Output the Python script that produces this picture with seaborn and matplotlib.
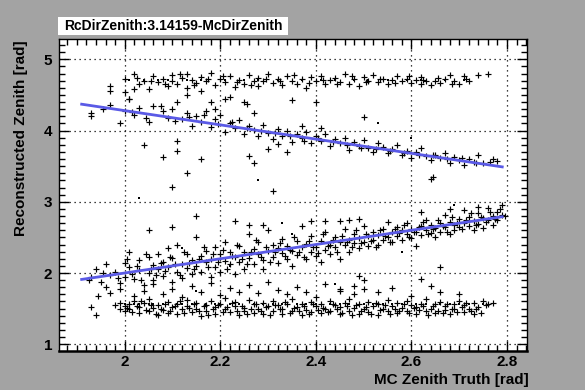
import matplotlib
matplotlib.use("Agg")
import matplotlib.pyplot as plt
from matplotlib.ticker import MultipleLocator
from matplotlib.patches import Rectangle
import seaborn as sns
import pandas as pd

# ---------------- data ----------------
title = "RcDirZenith:3.14159-McDirZenith"
x_title = "MC Zenith Truth [rad]"
y_title = "Reconstructed Zenith [rad]"
x_ticks = [2.0, 2.2, 2.4, 2.6, 2.8]
x_tick_labels = ["2", "2.2", "2.4", "2.6", "2.8"]
y_ticks = [1, 2, 3, 4, 5]
y_tick_labels = ["1", "2", "3", "4", "5"]

# reference lines (straight lines drawn on the plot)
line_x = [1.91, 2.79]
line_mirror_y = [4.37, 3.49]
line_true_y = [1.91, 2.79]

# band following the y = x line
band_true = [
    (1.93, 1.95), (1.94, 2.05), (1.95, 1.88), (1.96, 2.12), (1.97, 1.97), (1.98, 2.02), (1.99, 1.86),
    (2.00, 2.14), (2.00, 1.95), (2.01, 2.08), (2.01, 2.30), (2.02, 1.92), (2.03, 2.18), (2.03, 2.04),
    (2.04, 1.83), (2.05, 2.22), (2.05, 2.00), (2.06, 2.11), (2.06, 1.90), (2.07, 2.27), (2.07, 2.05),
    (2.08, 2.16), (2.08, 1.96), (2.09, 2.35), (2.09, 2.09), (2.10, 1.88), (2.10, 2.21), (2.11, 2.02),
    (2.11, 2.40), (2.12, 2.13), (2.12, 1.93), (2.13, 2.26), (2.13, 2.07), (2.14, 2.18), (2.14, 1.98),
    (2.15, 2.50), (2.15, 2.10), (2.16, 2.24), (2.16, 2.01), (2.17, 2.31), (2.17, 2.15), (2.18, 1.95),
    (2.18, 2.20), (2.19, 2.36), (2.19, 2.09), (2.20, 2.26), (2.20, 2.02), (2.21, 2.17), (2.21, 2.44),
    (2.22, 2.30), (2.22, 2.12), (2.23, 1.98), (2.23, 2.22), (2.24, 2.38), (2.24, 2.16), (2.25, 2.05),
    (2.25, 2.29), (2.26, 2.55), (2.26, 2.21), (2.27, 2.34), (2.27, 2.12), (2.28, 2.26), (2.28, 2.43),
    (2.29, 2.18), (2.29, 2.06), (2.30, 2.31), (2.30, 2.60), (2.31, 2.22), (2.31, 2.40), (2.32, 2.14),
    (2.32, 2.35), (2.33, 2.28), (2.33, 2.48), (2.34, 2.20), (2.34, 2.38), (2.35, 2.10), (2.35, 2.31),
    (2.36, 2.45), (2.36, 2.25), (2.37, 2.66), (2.37, 2.36), (2.38, 2.19), (2.38, 2.41), (2.39, 2.30),
    (2.39, 2.52), (2.40, 2.24), (2.40, 2.37), (2.41, 2.45), (2.41, 2.16), (2.42, 2.33), (2.42, 2.58),
    (2.43, 2.40), (2.43, 2.27), (2.44, 2.50), (2.44, 2.36), (2.45, 2.44), (2.45, 2.20), (2.46, 2.39),
    (2.46, 2.62), (2.47, 2.47), (2.47, 2.30), (2.48, 2.55), (2.48, 2.42), (2.49, 2.35), (2.49, 2.49),
    (2.50, 2.44), (2.50, 2.66), (2.51, 2.52), (2.51, 2.38), (2.52, 2.47), (2.52, 2.58), (2.53, 2.40),
    (2.53, 2.53), (2.54, 2.62), (2.54, 2.46), (2.55, 2.50), (2.55, 2.72), (2.56, 2.43), (2.56, 2.57),
    (2.57, 2.65), (2.57, 2.52), (2.58, 2.47), (2.58, 2.60), (2.59, 2.55), (2.59, 2.70), (2.60, 2.62),
    (2.60, 2.49), (2.61, 2.58), (2.61, 2.38), (2.62, 2.66), (2.62, 2.53), (2.63, 2.61), (2.63, 2.75),
    (2.64, 2.56), (2.64, 2.68), (2.65, 2.63), (2.65, 2.50), (2.66, 2.70), (2.66, 2.58), (2.67, 2.82),
    (2.67, 2.64), (2.68, 2.55), (2.68, 2.72), (2.69, 2.67), (2.69, 2.60), (2.70, 2.76), (2.70, 2.64),
    (2.71, 2.70), (2.71, 2.88), (2.72, 2.66), (2.72, 2.79), (2.73, 2.60), (2.73, 2.73), (2.74, 2.84),
    (2.74, 2.69), (2.75, 2.77), (2.75, 2.63), (2.76, 2.91), (2.76, 2.74), (2.77, 2.80), (2.77, 2.68),
    (2.78, 2.86), (2.78, 2.75), (2.79, 2.82), (2.79, 2.95),
    (2.23, 2.73), (2.26, 2.67), (2.29, 2.67), (2.39, 2.73), (2.42, 2.73), (2.45, 2.73), (2.47, 2.74),
    (2.49, 2.76), (2.05, 2.60), (2.10, 2.64), (2.15, 2.80), (2.62, 2.85), (2.68, 2.90), (2.74, 2.93),
    (1.925, 1.90), (1.955, 2.00), (1.985, 1.93), (2.005, 2.20), (2.015, 1.98), (2.025, 2.10),
    (2.035, 1.90), (2.045, 2.26), (2.055, 2.05), (2.065, 1.97), (2.075, 2.14), (2.085, 2.03),
    (2.095, 2.22), (2.105, 2.12), (2.115, 1.97), (2.125, 2.30), (2.135, 2.14), (2.145, 2.05),
    (2.155, 2.20), (2.165, 2.37), (2.175, 2.09), (2.185, 2.26), (2.195, 2.15), (2.205, 2.33),
    (2.215, 2.06), (2.225, 2.24), (2.235, 2.40), (2.245, 2.20), (2.255, 2.12), (2.265, 2.30),
    (2.275, 2.47), (2.285, 2.22), (2.295, 2.36), (2.305, 2.16), (2.315, 2.30), (2.325, 2.42),
    (2.335, 2.24), (2.345, 2.33), (2.355, 2.50), (2.365, 2.30), (2.375, 2.22), (2.385, 2.45),
    (2.395, 2.36), (2.405, 2.28), (2.415, 2.55), (2.425, 2.38), (2.435, 2.47), (2.445, 2.30),
    (2.455, 2.52), (2.465, 2.44), (2.475, 2.36), (2.485, 2.60), (2.495, 2.42), (2.505, 2.55),
    (2.515, 2.45), (2.525, 2.36), (2.535, 2.60), (2.545, 2.52), (2.555, 2.44), (2.565, 2.62),
    (2.575, 2.56), (2.585, 2.68), (2.595, 2.50), (2.605, 2.57), (2.615, 2.64), (2.625, 2.72),
    (2.635, 2.55), (2.645, 2.62), (2.655, 2.74), (2.665, 2.66), (2.675, 2.58), (2.685, 2.78),
    (2.695, 2.70), (2.705, 2.62), (2.715, 2.75), (2.725, 2.84), (2.735, 2.68), (2.745, 2.78),
    (2.755, 2.71), (2.765, 2.86), (2.775, 2.76), (2.785, 2.90), (2.795, 2.80),
]

# points between the y = x band and the pi/2 band
band_gap = [
    (1.96, 1.80), (1.97, 1.72), (1.99, 1.77), (2.02, 1.68), (2.04, 1.75), (2.06, 1.84), (2.08, 1.70),
    (2.10, 1.78), (2.12, 1.66), (2.14, 1.82), (2.16, 1.73), (2.18, 1.86), (2.20, 1.69), (2.22, 1.79),
    (2.24, 1.74), (2.26, 1.83), (2.28, 1.72), (2.30, 1.88), (2.32, 1.76), (2.34, 1.70), (2.36, 1.80),
    (2.38, 1.74), (2.40, 1.67), (2.42, 1.85), (2.45, 1.78), (2.48, 1.71), (2.50, 1.90), (2.53, 1.73),
    (2.56, 1.79), (2.60, 1.68), (2.64, 1.82), (2.66, 1.74), (2.70, 1.70), (1.93, 1.52), (1.94, 1.41),
    (1.945, 1.68), (2.49, 1.96), (2.48, 1.82), (2.50, 1.78), (2.45, 1.75), (2.62, 1.92), (2.66, 2.08),
]

# band around pi/2
band_low = [
    (1.98, 1.55), (1.99, 1.50), (1.99, 1.58), (2.00, 1.47), (2.00, 1.53), (2.01, 1.56), (2.01, 1.49),
    (2.02, 1.61), (2.03, 1.44), (2.03, 1.52), (2.04, 1.58), (2.05, 1.46), (2.05, 1.63), (2.06, 1.51),
    (2.07, 1.41), (2.07, 1.55), (2.08, 1.48), (2.09, 1.59), (2.09, 1.44), (2.10, 1.52), (2.11, 1.57),
    (2.11, 1.42), (2.12, 1.49), (2.13, 1.62), (2.13, 1.54), (2.14, 1.45), (2.15, 1.58), (2.15, 1.50),
    (2.16, 1.40), (2.17, 1.55), (2.17, 1.47), (2.18, 1.60), (2.19, 1.52), (2.19, 1.43), (2.20, 1.57),
    (2.21, 1.49), (2.21, 1.65), (2.22, 1.45), (2.23, 1.54), (2.23, 1.59), (2.24, 1.41), (2.25, 1.51),
    (2.25, 1.47), (2.26, 1.62), (2.27, 1.56), (2.27, 1.44), (2.28, 1.50), (2.29, 1.58), (2.29, 1.42),
    (2.30, 1.53), (2.31, 1.47), (2.31, 1.60), (2.32, 1.55), (2.33, 1.43), (2.33, 1.50), (2.34, 1.57),
    (2.35, 1.46), (2.35, 1.63), (2.36, 1.52), (2.37, 1.41), (2.37, 1.56), (2.38, 1.48), (2.39, 1.59),
    (2.39, 1.45), (2.40, 1.53), (2.41, 1.57), (2.41, 1.44), (2.42, 1.50), (2.43, 1.61), (2.43, 1.47),
    (2.44, 1.55), (2.45, 1.42), (2.45, 1.52), (2.46, 1.58), (2.47, 1.46), (2.47, 1.64), (2.48, 1.51),
    (2.49, 1.43), (2.49, 1.56), (2.50, 1.49), (2.51, 1.59), (2.51, 1.45), (2.52, 1.53), (2.53, 1.57),
    (2.53, 1.41), (2.54, 1.50), (2.55, 1.62), (2.55, 1.46), (2.56, 1.54), (2.57, 1.44), (2.57, 1.58),
    (2.58, 1.51), (2.59, 1.47), (2.59, 1.60), (2.60, 1.55), (2.61, 1.42), (2.61, 1.52), (2.62, 1.57),
    (2.63, 1.46), (2.63, 1.63), (2.64, 1.50), (2.65, 1.44), (2.65, 1.56), (2.66, 1.59), (2.67, 1.48),
    (2.67, 1.53), (2.68, 1.42), (2.69, 1.57), (2.69, 1.50), (2.70, 1.61), (2.71, 1.45), (2.71, 1.55),
    (2.72, 1.49), (2.73, 1.58), (2.73, 1.43), (2.74, 1.52), (2.75, 1.60), (2.76, 1.56), (2.77, 1.58),
    (2.005, 1.51), (2.015, 1.45), (2.025, 1.54), (2.035, 1.60), (2.045, 1.48), (2.055, 1.55),
    (2.065, 1.43), (2.075, 1.50), (2.085, 1.57), (2.095, 1.47), (2.105, 1.53), (2.115, 1.60),
    (2.125, 1.44), (2.135, 1.51), (2.145, 1.56), (2.155, 1.46), (2.165, 1.53), (2.175, 1.41),
    (2.185, 1.49), (2.195, 1.55), (2.205, 1.45), (2.215, 1.52), (2.225, 1.58), (2.235, 1.47),
    (2.245, 1.54), (2.255, 1.43), (2.265, 1.50), (2.275, 1.56), (2.285, 1.46), (2.295, 1.52),
    (2.305, 1.41), (2.315, 1.55), (2.325, 1.49), (2.335, 1.59), (2.345, 1.44), (2.355, 1.51),
    (2.365, 1.47), (2.375, 1.53), (2.385, 1.42), (2.395, 1.56), (2.405, 1.48), (2.415, 1.51),
    (2.425, 1.45), (2.435, 1.57), (2.445, 1.49), (2.455, 1.44), (2.465, 1.53), (2.475, 1.41),
    (2.485, 1.55), (2.495, 1.47), (2.505, 1.52), (2.515, 1.43), (2.525, 1.58), (2.535, 1.48),
    (2.545, 1.55), (2.555, 1.42), (2.565, 1.50), (2.575, 1.46), (2.585, 1.56), (2.595, 1.44),
    (2.605, 1.51), (2.615, 1.48), (2.625, 1.54), (2.635, 1.41), (2.645, 1.53), (2.655, 1.47),
    (2.665, 1.44), (2.675, 1.56), (2.685, 1.49), (2.695, 1.45), (2.705, 1.52), (2.715, 1.58),
    (2.725, 1.46), (2.735, 1.50), (2.745, 1.44), (2.755, 1.55),
]

# band around 3*pi/2
band_high = [
    (1.97, 4.62), (2.00, 4.72), (2.01, 4.45), (2.02, 4.80), (2.03, 4.65), (2.04, 4.70), (2.05, 4.58),
    (2.06, 4.76), (2.07, 4.68), (2.08, 4.73), (2.09, 4.62), (2.10, 4.78), (2.10, 4.70), (2.11, 4.66),
    (2.12, 4.74), (2.13, 4.60), (2.13, 4.79), (2.14, 4.71), (2.15, 4.67), (2.16, 4.75), (2.16, 4.55),
    (2.17, 4.69), (2.18, 4.81), (2.19, 4.64), (2.20, 4.72), (2.21, 4.68), (2.22, 4.76), (2.23, 4.61),
    (2.24, 4.71), (2.25, 4.66), (2.26, 4.78), (2.27, 4.70), (2.28, 4.63), (2.28, 4.74), (2.29, 4.69),
    (2.30, 4.80), (2.31, 4.67), (2.32, 4.72), (2.33, 4.64), (2.34, 4.76), (2.35, 4.70), (2.36, 4.66),
    (2.37, 4.73), (2.38, 4.60), (2.39, 4.75), (2.40, 4.69), (2.41, 4.77), (2.42, 4.65), (2.43, 4.71),
    (2.44, 4.74), (2.45, 4.68), (2.46, 4.79), (2.47, 4.66), (2.48, 4.72), (2.49, 4.62), (2.50, 4.75),
    (2.51, 4.70), (2.52, 4.78), (2.53, 4.68), (2.54, 4.73), (2.55, 4.65), (2.56, 4.71), (2.57, 4.76),
    (2.58, 4.69), (2.59, 4.73), (2.60, 4.67), (2.61, 4.71), (2.62, 4.66), (2.62, 4.75), (2.63, 4.69),
    (2.64, 4.64), (2.65, 4.70), (2.66, 4.67), (2.67, 4.72), (2.68, 4.78), (2.69, 4.70), (2.70, 4.66),
    (2.71, 4.76), (2.72, 4.69), (2.74, 4.78), (2.76, 4.79),
    (2.025, 4.74), (2.055, 4.69), (2.085, 4.66), (2.115, 4.80), (2.145, 4.64), (2.175, 4.72),
    (2.205, 4.77), (2.235, 4.68), (2.265, 4.64), (2.295, 4.73), (2.325, 4.70), (2.355, 4.78),
    (2.385, 4.67), (2.415, 4.71), (2.445, 4.65), (2.475, 4.76), (2.505, 4.68), (2.535, 4.72),
    (2.565, 4.67), (2.595, 4.77), (2.625, 4.71), (2.655, 4.74), (2.685, 4.66), (2.715, 4.72),
]

# band following the 2*pi - x line
band_mirror = [
    (1.93, 4.25), (1.93, 4.20), (1.97, 4.36), (1.99, 4.10), (2.00, 4.28), (2.01, 4.45), (2.02, 4.22),
    (2.03, 4.32), (2.05, 4.12), (2.06, 4.35), (2.08, 4.27), (2.09, 4.18), (2.10, 4.30), (2.11, 4.40),
    (2.12, 4.16), (2.13, 4.24), (2.14, 4.07), (2.15, 4.20), (2.16, 4.12), (2.17, 4.28), (2.18, 4.05),
    (2.19, 4.16), (2.20, 4.22), (2.21, 3.98), (2.22, 4.10), (2.23, 4.03), (2.24, 4.15), (2.25, 3.95),
    (2.26, 4.06), (2.27, 4.01), (2.28, 3.92), (2.29, 4.08), (2.30, 3.97), (2.31, 3.88), (2.32, 4.02),
    (2.33, 3.93), (2.34, 3.99), (2.35, 3.84), (2.36, 3.95), (2.37, 3.90), (2.38, 3.98), (2.39, 3.82),
    (2.40, 3.92), (2.41, 3.86), (2.42, 3.95), (2.43, 3.78), (2.44, 3.88), (2.45, 3.82), (2.46, 3.90),
    (2.47, 3.73), (2.48, 3.84), (2.49, 3.79), (2.50, 3.87), (2.51, 3.75), (2.52, 3.70), (2.53, 3.82),
    (2.54, 3.77), (2.55, 3.68), (2.56, 3.74), (2.57, 3.80), (2.58, 3.66), (2.59, 3.72), (2.60, 3.62),
    (2.61, 3.70), (2.62, 3.75), (2.63, 3.64), (2.64, 3.58), (2.65, 3.66), (2.66, 3.61), (2.67, 3.69),
    (2.68, 3.55), (2.69, 3.63), (2.70, 3.58), (2.71, 3.52), (2.72, 3.60), (2.73, 3.56), (2.74, 3.65),
    (2.75, 3.54), (2.77, 3.60), (2.78, 3.57),
    (1.955, 4.30), (2.015, 4.26), (2.045, 4.18), (2.075, 4.34), (2.105, 4.14), (2.135, 4.19),
    (2.165, 4.22), (2.195, 4.09), (2.225, 4.12), (2.255, 4.03), (2.285, 4.00), (2.315, 3.96),
    (2.345, 3.92), (2.375, 3.86), (2.405, 3.89), (2.435, 3.84), (2.465, 3.80), (2.495, 3.76),
    (2.525, 3.74), (2.555, 3.71), (2.585, 3.69), (2.615, 3.65), (2.645, 3.66), (2.675, 3.60),
    (2.705, 3.62), (2.735, 3.54), (2.765, 3.56),
]

# isolated points
outliers = [
    (2.04, 3.80), (2.08, 3.63), (2.11, 3.85), (2.11, 3.71), (2.13, 3.40), (2.16, 3.60), (2.10, 3.21),
    (2.26, 3.64), (2.27, 3.54), (2.31, 3.15), (2.30, 3.74), (2.32, 3.81), (2.34, 3.70), (2.25, 4.40),
    (2.255, 4.37), (2.27, 4.24), (2.35, 4.43), (2.21, 4.44), (2.22, 4.47), (2.19, 4.30), (2.18, 4.40),
    (1.97, 4.55), (2.13, 4.50), (2.00, 4.54), (2.02, 4.58), (2.40, 4.40), (2.50, 4.19), (2.64, 3.32),
    (2.645, 3.35), (2.37, 4.07), (2.41, 4.03),
]

# single-pixel dots
dots_x = [2.00, 2.02, 2.03, 2.05, 2.06, 2.08, 2.11, 2.12, 2.14, 2.17, 2.19, 2.20, 2.22, 2.24, 2.27,
          2.29, 2.31, 2.33, 2.36, 2.38, 2.40, 2.43, 2.45, 2.47, 2.50, 2.52, 2.54, 2.56, 2.58, 2.61,
          2.63, 2.66, 2.68, 2.70, 2.72, 2.75,
          2.01, 2.04, 2.07, 2.09, 2.13, 2.16, 2.21, 2.25, 2.28, 2.32, 2.37, 2.41, 2.44, 2.48, 2.51,
          2.55, 2.59, 2.62, 2.67, 2.71,
          2.12, 2.22, 2.35, 2.44, 2.58, 2.03, 2.28, 2.53, 2.69, 2.15, 2.33, 2.60]
dots_y = [1.57, 1.57, 1.57, 1.57, 1.57, 1.57, 1.57, 1.57, 1.57, 1.57, 1.57, 1.57, 1.57, 1.57, 1.57,
          1.57, 1.57, 1.57, 1.57, 1.57, 1.57, 1.57, 1.57, 1.57, 1.57, 1.57, 1.57, 1.57, 1.57, 1.57,
          1.57, 1.57, 1.57, 1.57, 1.57, 1.57,
          4.71, 4.71, 4.71, 4.71, 4.71, 4.71, 4.71, 4.71, 4.71, 4.71, 4.71, 4.71, 4.71, 4.71, 4.71,
          4.71, 4.71, 4.71, 4.71, 4.71,
          2.35, 2.10, 2.55, 1.85, 2.30, 3.05, 3.30, 4.10, 2.95, 1.75, 2.70, 3.90]

# ---------------- figure ----------------
W, H, DPI = 585, 390, 100
bg = "#a3a3a3"
plt.rcParams["font.family"] = ["Liberation Sans", "DejaVu Sans"]
plt.rcParams["font.weight"] = "bold"

fig = plt.figure(figsize=(W / DPI, H / DPI), dpi=DPI, facecolor=bg)
ax = fig.add_axes([0.1012, 0.1, 0.799, 0.799])
ax.set_facecolor("white")

cross_pts = band_true + band_gap + band_low + band_high + band_mirror + outliers
df = pd.DataFrame(cross_pts, columns=["x", "y"])
df_dots = pd.DataFrame({"x": dots_x, "y": dots_y})

sns.scatterplot(data=df, x="x", y="y", marker="+", s=13, linewidth=0.85,
                color="black", ax=ax, zorder=3, legend=False)
sns.scatterplot(data=df_dots, x="x", y="y", marker="s", s=1.2, linewidth=0,
                color="black", ax=ax, zorder=3, legend=False)

line_color = "#5a5ae6"
sns.lineplot(x=line_x, y=line_mirror_y, color=line_color, linewidth=2.0, ax=ax, zorder=4)
sns.lineplot(x=line_x, y=line_true_y, color=line_color, linewidth=2.0, ax=ax, zorder=4)

ax.set_xlim(1.863, 2.841)
ax.set_ylim(0.905, 5.28)

ax.set_xticks(x_ticks)
ax.set_xticklabels(x_tick_labels)
ax.set_yticks(y_ticks)
ax.set_yticklabels(y_tick_labels)
ax.xaxis.set_minor_locator(MultipleLocator(0.02))
ax.yaxis.set_minor_locator(MultipleLocator(0.1))
ax.tick_params(which="both", direction="in", top=True, right=True, color="black")
ax.tick_params(which="major", length=7, width=1, labelsize=11)
ax.tick_params(axis="x", which="major", pad=3)
ax.tick_params(axis="y", which="major", pad=5)
ax.tick_params(which="minor", length=4, width=1)
for lab in ax.get_xticklabels() + ax.get_yticklabels():
    lab.set_fontweight("bold")

ax.grid(True, which="major", color="black", linestyle=(0, (1, 3)), linewidth=0.9)
ax.set_axisbelow(True)
for side in ["top", "right", "left", "bottom"]:
    ax.spines[side].set_color("black")
    ax.spines[side].set_linewidth(1.0)
ax.spines["bottom"].set_linewidth(1.8)

ax.set_xlabel("")
ax.set_ylabel("")
fig.text(529 / W, 1 - 380 / H, x_title, ha="right", va="center", fontsize=11, fontweight="bold")
fig.text(21 / W, 1 - 40 / H, y_title, ha="center", va="top", rotation=90, fontsize=11,
         fontweight="bold")

# title box
fig.patches.append(Rectangle((58 / W, 1 - 35 / H), (288 - 58) / W, 18 / H,
                             transform=fig.transFigure, facecolor="white", edgecolor="none"))
fig.text(173 / W, 1 - 26 / H, title, ha="center", va="center", fontsize=10, fontweight="bold")

fig.savefig("out.png", dpi=DPI, facecolor=bg)
